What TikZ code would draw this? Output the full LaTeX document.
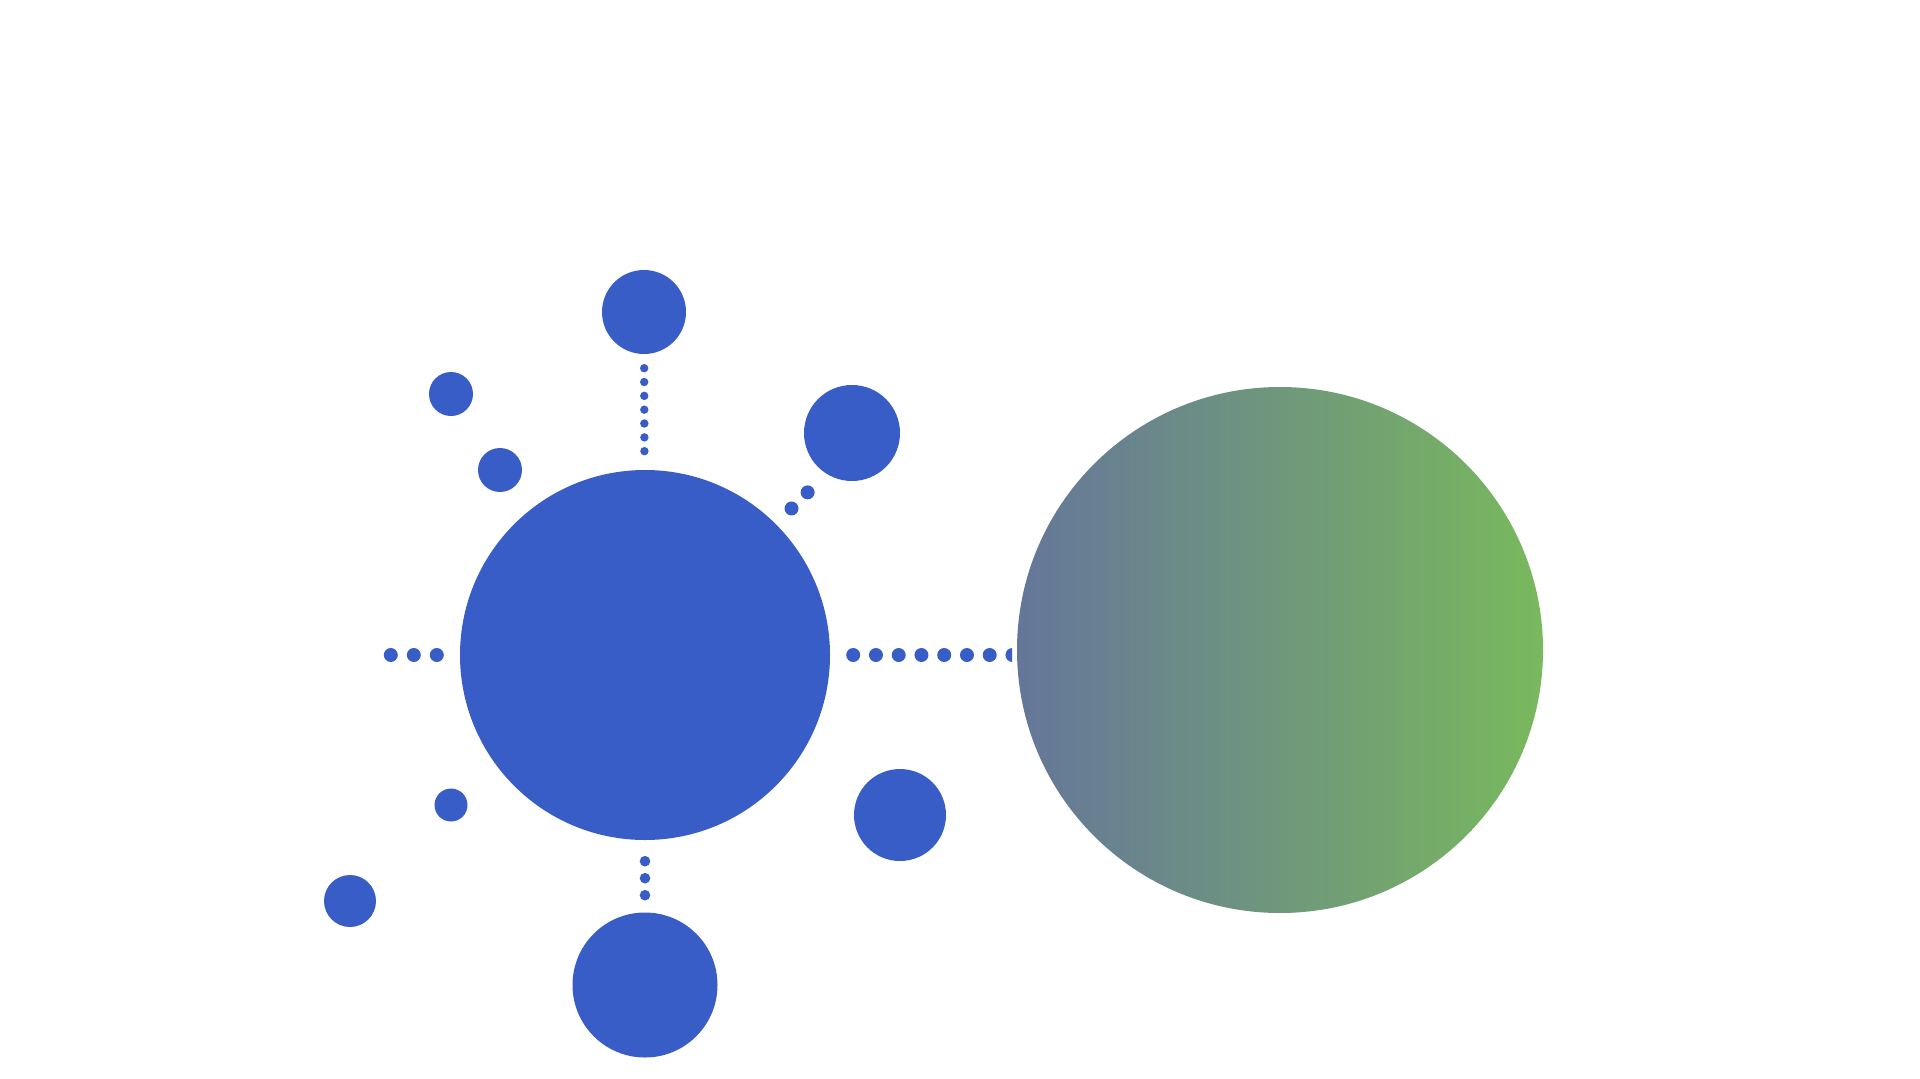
\documentclass[tikz,border=0pt]{standalone}

\definecolor{ballblue}{RGB}{57,93,198}
\definecolor{greenleft}{RGB}{101,118,154}
\definecolor{greenright}{RGB}{121,185,93}

\tikzset{
  dotrow/.style 2 args={line width=#1,dash pattern=on 0pt off #2}
}

\begin{document}
\begin{tikzpicture}[x=1pt,y=-1pt]

      \useasboundingbox (0,0) rectangle (1920,1079);

      \begin{scope}[every node/.style={circle,fill=ballblue,inner sep=0pt}]
        \node[minimum size=370pt] (hub)       at (645,655) {};
        \node[minimum size=84pt]  (top)       at (644,312) {};
        \node[minimum size=145pt] (bottom)    at (645,985) {};
        \node[minimum size=96pt]  (upright)   at (852,433) {};
        \node[minimum size=92pt]  (lowright)  at (900,815) {};
        \node[minimum size=44pt]  (upleftA)   at (451,394) {};
        \node[minimum size=44pt]  (upleftB)   at (500,470) {};
        \node[minimum size=33pt]  (lowleftA)  at (451,805) {};
        \node[minimum size=52pt]  (lowleftB)  at (350,901) {};
      \end{scope}

      \node[circle,inner sep=0pt,minimum size=526pt,
            left color=greenleft,right color=greenright] (target) at (1280,650) {};

      \coordinate (leftend)  at (390,655);
      \coordinate (diagend)  at (809,491);
      \coordinate (rightend) at (1013,655);

      \begin{scope}[every edge/.style={draw=ballblue,line cap=round}]
        \path (top)     edge[dotrow={8.4pt}{13.83pt},shorten <=14pt,shorten >=18pt] (hub);
        \path (hub)     edge[dotrow={10.6pt}{17pt},shorten <=21pt,shorten >=17pt] (bottom);
        \path (hub)     edge[dotrow={14pt}{23pt},shorten <=23pt] (leftend);
        \path (hub.45)  edge[dotrow={14pt}{22.8pt},shorten <=22pt] (diagend);
        \begin{scope}
          \clip (0,0) rectangle (1012,1079);
          \path (hub)   edge[dotrow={14pt}{22.75pt},shorten <=23pt] (rightend);
        \end{scope}
      \end{scope}

    \end{tikzpicture}
\end{document}
